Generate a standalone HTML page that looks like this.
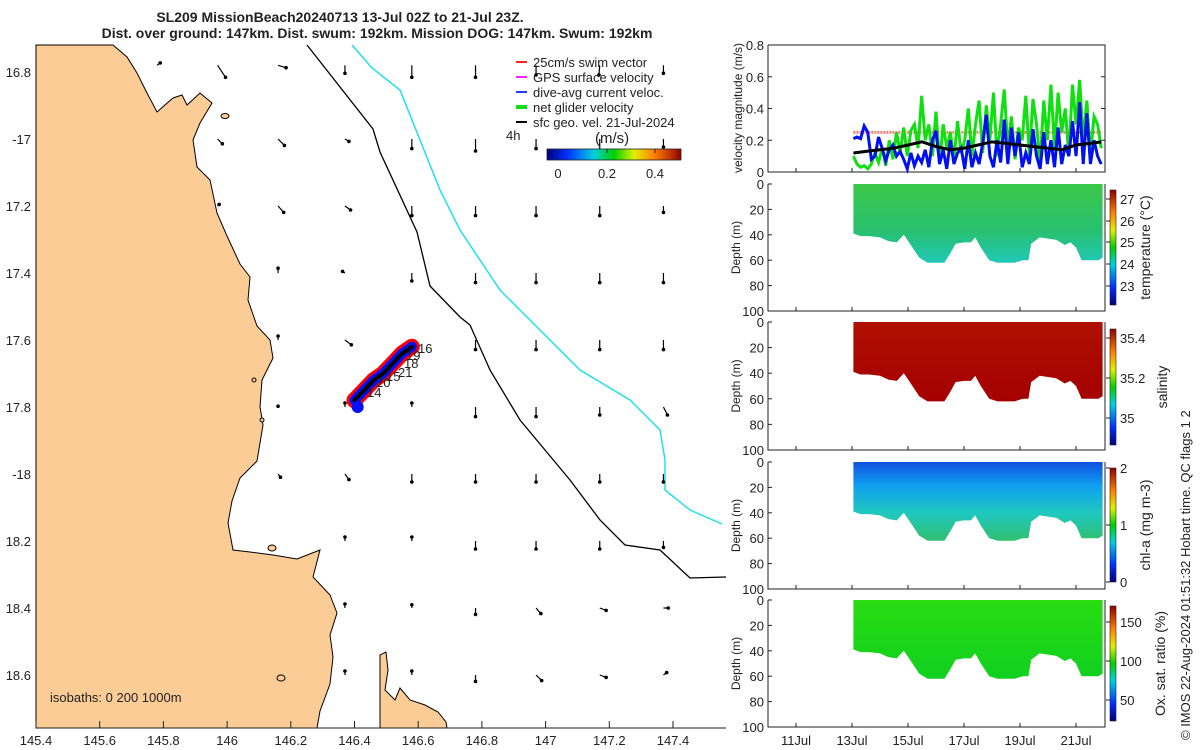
<!DOCTYPE html>
<html><head><meta charset="utf-8">
<style>
html,body{margin:0;padding:0;background:#fff;}
svg{display:block;font-family:"Liberation Sans","DejaVu Sans",sans-serif;}
text{fill:#222;}
</style></head>
<body>
<svg id="fig" width="1200" height="750" viewBox="0 0 1200 750" xmlns="http://www.w3.org/2000/svg">
<defs>
<linearGradient id="jet" x1="0" y1="1" x2="0" y2="0">
<stop offset="0" stop-color="#000080"/><stop offset="0.15" stop-color="#0030ff"/><stop offset="0.35" stop-color="#00d0e0"/><stop offset="0.5" stop-color="#00d000"/><stop offset="0.65" stop-color="#e0f000"/><stop offset="0.8" stop-color="#ff8000"/><stop offset="1" stop-color="#900000"/>
</linearGradient>
<linearGradient id="jeth" x1="0" y1="0" x2="1" y2="0">
<stop offset="0" stop-color="#000080"/><stop offset="0.15" stop-color="#0030ff"/><stop offset="0.35" stop-color="#00d0e0"/><stop offset="0.5" stop-color="#00d000"/><stop offset="0.65" stop-color="#e0f000"/><stop offset="0.8" stop-color="#ff8000"/><stop offset="1" stop-color="#900000"/>
</linearGradient>
<linearGradient id="gTemp" x1="0" y1="0" x2="0" y2="1"><stop offset="0" stop-color="#3cc848"/><stop offset="0.6" stop-color="#28c070"/><stop offset="1" stop-color="#20c8b8"/></linearGradient>
<linearGradient id="gSal" x1="0" y1="0" x2="0" y2="1"><stop offset="0" stop-color="#b01000"/><stop offset="1" stop-color="#a40000"/></linearGradient>
<linearGradient id="gChl" x1="0" y1="0" x2="0" y2="1"><stop offset="0" stop-color="#1050e0"/><stop offset="0.3" stop-color="#10a0f0"/><stop offset="0.65" stop-color="#20c8c0"/><stop offset="1" stop-color="#30c070"/></linearGradient>
<linearGradient id="gOx" x1="0" y1="0" x2="0" y2="1"><stop offset="0" stop-color="#28dc10"/><stop offset="1" stop-color="#10d020"/></linearGradient>
</defs>

<text x="340" y="22" font-size="14" font-weight="bold" text-anchor="middle">SL209 MissionBeach20240713 13-Jul 02Z to 21-Jul 23Z.</text>
<text x="377" y="38" font-size="14" font-weight="bold" text-anchor="middle">Dist. over ground: 147km. Dist. swum: 192km. Mission DOG: 147km. Swum: 192km</text>

<g id="map"></g>
<g id="panels"></g>

<text transform="translate(1190,740) rotate(-90)" font-size="13">© IMOS 22-Aug-2024 01:51:32 Hobart time. QC flags 1  2</text>
</svg>
<script>
// ---------- data ----------
const mapLonTicks=[145.4,145.6,145.8,146,146.2,146.4,146.6,146.8,147,147.2,147.4];
const mapLatTicks=[-16.8,-17,-17.2,-17.4,-17.6,-17.8,-18,-18.2,-18.4,-18.6];
const mapLatLabels=["16.8","-17","17.2","17.4","17.6","17.8","-18","18.2","18.4","18.6"];
const arrowLons=[145.78,145.97,146.16,146.37,146.58,146.78,146.97,147.17,147.37];
const arrowLats=[-16.78,-17.0,-17.2,-17.4,-17.6,-17.8,-18.0,-18.2,-18.4,-18.6];
const arrowU=[
[0.04,0.1,0.1,0,0,0,0,-0.01,0],
[null,0.06,0.08,0.05,0,0,0,0,0],
[null,0.02,0.07,0.07,0,0,0,0,0],
[null,null,0,-0.03,0,0,0,0,0],
[null,null,0,0.08,0.01,0,0,0,0],
[null,null,0,0,0,0,0,0,0.05],
[null,null,0.03,0.05,0,0,0,0,0],
[null,null,null,0,0,0,0,0,0],
[null,null,null,0,0,0,0.06,0.08,0.06],
[null,null,null,0,0,0,0.07,0.08,0.04]];
const arrowV=[
[0.03,-0.15,-0.03,-0.1,-0.15,-0.15,-0.12,-0.12,-0.1],
[null,-0.06,-0.08,-0.03,-0.12,-0.15,-0.12,-0.15,-0.1],
[null,0.02,-0.08,-0.05,-0.12,-0.12,-0.12,-0.12,-0.08],
[null,null,0.06,0.02,-0.1,-0.12,-0.12,-0.12,-0.12],
[null,null,0.05,-0.06,-0.02,-0.12,-0.12,-0.12,-0.12],
[null,null,0.01,0.05,0.05,-0.12,-0.12,-0.1,-0.1],
[null,null,-0.04,-0.07,-0.1,-0.1,-0.1,-0.1,-0.1],
[null,null,null,0.05,0.05,-0.1,-0.1,-0.1,-0.08],
[null,null,null,0.05,0.04,-0.08,-0.07,-0.03,0],
[null,null,null,0.05,0.05,-0.08,-0.07,-0.03,0.03]];
const trackLon=[146.40,146.43,146.46,146.49,146.52,146.55,146.58];
const trackLat=[-17.78,-17.75,-17.72,-17.70,-17.67,-17.64,-17.62];
const dayTicks=[11,13,15,17,19,21];
const velTicks=[0,0.2,0.4,0.6,0.8];
const depthTicks=[0,20,40,60,80,100];
const profDays=[13.05,13.3,13.6,14.0,14.3,14.6,14.85,15.1,15.4,15.7,16.0,16.3,16.5,16.7,17.0,17.25,17.4,17.6,17.9,18.2,18.5,18.8,19.1,19.3,19.4,19.7,20.0,20.3,20.6,20.8,21.0,21.2,21.5,21.8,21.95];
const profDepth=[39,41,41,42,45,46,40,48,58,62,62,62,55,47,46,46,42,50,60,62,62,62,60,60,47,42,43,44,48,46,50,60,60,60,58];
const greenVel=[0.1,0.05,0.03,0.04,0.02,0.05,0.12,0.06,0.15,0.04,0.2,0.08,0.25,0.12,0.28,0.1,0.26,0.3,0.15,0.48,0.2,0.3,0.1,0.38,0.05,0.3,0.15,0.25,0.08,0.32,0.12,0.2,0.4,0.1,0.3,0.45,0.12,0.42,0.2,0.5,0.1,0.3,0.52,0.15,0.35,0.08,0.28,0.2,0.48,0.1,0.46,0.3,0.05,0.45,0.2,0.55,0.15,0.5,0.25,0.4,0.1,0.55,0.3,0.58,0.2,0.45,0.1,0.35,0.3,0.15];
const blueVel=[0.21,0.22,0.21,0.29,0.25,0.08,0.1,0.22,0.15,0.07,0.14,0.17,0.1,0.13,0.08,0.02,0.12,0.04,0.1,0.06,0.14,0.03,0.2,0.26,0.05,0.14,0.02,0.2,0.05,0.12,0.15,0.02,0.2,0.03,0.12,0.05,0.18,0.36,0.1,0.03,0.2,0.06,0.33,0.05,0.28,0.1,0.25,0.03,0.12,0.05,0.27,0.1,0.02,0.25,0.05,0.2,0.03,0.28,0.05,0.17,0.1,0.32,0.1,0.44,0.05,0.37,0.05,0.2,0.1,0.05];
const blackDays=[13.05,13.5,14,14.5,15,15.5,16,16.5,17,17.5,18,18.5,19,19.5,20,20.5,21,21.5,21.9];
const blackVel=[0.12,0.13,0.14,0.15,0.17,0.19,0.16,0.14,0.15,0.17,0.19,0.18,0.17,0.16,0.15,0.14,0.17,0.18,0.19];
const swimVel=[0.25,0.25];

// ---------- helpers ----------
const NS="http://www.w3.org/2000/svg";
function mk(tag,attrs,parent){const e=document.createElementNS(NS,tag);for(const k in attrs)e.setAttribute(k,attrs[k]);parent.appendChild(e);return e;}
const map=document.getElementById('map');
const panels=document.getElementById('panels');
const MX0=36,MX1=726,MY0=45,MY1=728;
const lonX=l=>MX0+(l-145.4)*318.5;
const latY=l=>72+(-16.8-l)/0.2*67;

// ---------- map ----------
let r=mk('rect',{x:MX0,y:MY0,width:MX1-MX0,height:MY1-MY0,fill:'#fff'},map);

const coast="36,45 113,45 127,57 137,73 147,93 157,112 173,98 182,95 187,105 200,93 212,103 200,123 193,140 197,167 210,180 217,213 227,236 240,264 250,277 248,300 257,326 270,340 273,358 262,380 260,407 263,425 257,461 240,478 232,501 228,523 233,550 250,552 273,555 297,559 320,550 313,577 330,595 337,613 330,635 333,657 330,684 320,711 317,728 36,728";
let land=mk('polygon',{points:coast,fill:'#fccc97',stroke:'#000','stroke-width':1},map);

let isl=mk('polygon',{points:"380,655 386,652 388,670 385,690 395,700 400,688 410,700 425,705 438,712 446,722 447,728 380,728",fill:'#fccc97',stroke:'#000','stroke-width':1},map);

[[225,116,4,2.5],[272,548,4,3],[281,678,4,3],[254,380,2,2],[262,420,2,2]].forEach(p=>{let e=mk('ellipse',{cx:p[0],cy:p[1],rx:p[2],ry:p[3],fill:'#fccc97',stroke:'#000','stroke-width':1},map);});
let iso200=mk('polyline',{points:"307,45 373,129 380,152 417,232 430,286 460,317 470,325 490,370 520,420 570,480 600,520 625,545 660,550 690,578 726,577",fill:'none',stroke:'#000','stroke-width':1.3},map);

let iso1000=mk('polyline',{points:"352,45 372,68 400,90 420,140 440,190 460,230 480,260 500,290 540,330 580,370 630,400 660,430 665,460 665,490 690,510 722,524",fill:'none',stroke:'#20e0e8','stroke-width':1.5},map);


// arrows
for(let i=0;i<arrowLats.length;i++)for(let j=0;j<arrowLons.length;j++){
  const u=arrowU[i][j],v=arrowV[i][j];if(u===null||v===null)continue;
  const x=lonX(arrowLons[j]),y=latY(arrowLats[i]);const x2=x+u*80,y2=y-v*80;
  const g=mk('g',{},map);
  
  
  mk('line',{x1:x,y1:y,x2:x2,y2:y2,stroke:'#000','stroke-width':1.2},g);
  mk('circle',{cx:x2,cy:y2,r:1.8,fill:'#000'},g);
}
// glider track
const tp=trackLon.map((l,k)=>lonX(l)+','+latY(trackLat[k])).join(' ');
let t1=mk('polyline',{points:tp,fill:'none',stroke:'#ff0000','stroke-width':16,'stroke-linecap':'round'},map);

let t2=mk('polyline',{points:tp,fill:'none',stroke:'#0010ff','stroke-width':10,'stroke-linecap':'round'},map);

let t3=mk('polyline',{points:tp,fill:'none',stroke:'#000','stroke-width':4,'stroke-linecap':'round'},map);

let sd=mk('circle',{cx:lonX(146.41),cy:latY(-17.8),r:6,fill:'#0010ff'},map);

[["16",418,353],["19",406,360],["18",404,368],["21",398,377],["15",386,381],["20",376,387],["14",367,397]].forEach(d=>{let t=mk('text',{x:d[1],y:d[2],'font-size':13},map);t.textContent=d[0];});

// map frame and ticks
let fr=mk('polyline',{points:`${MX0},${MY1} ${MX1},${MY1}`,stroke:'#222',fill:'none','stroke-width':1},map);

mapLonTicks.forEach(l=>{const x=lonX(l);mk('line',{x1:x,y1:MY1,x2:x,y2:MY1-7,stroke:'#222'},map);let t=mk('text',{x:x,y:745,'font-size':13,'text-anchor':'middle'},map);t.textContent=String(l);});
mapLatTicks.forEach((l,k)=>{const y=latY(l);let t=mk('text',{x:31,y:y+5,'font-size':13,'text-anchor':'end'},map);t.textContent=mapLatLabels[k];});
let iso=mk('text',{x:50,y:702,'font-size':13},map);iso.textContent="isobaths: 0   200  1000m";


// legend
const leg=mk('g',{},map);

[["#ff2020","25cm/s swim vector"],["#ff20ff","GPS surface velocity"],["#2040ff","dive-avg current veloc."],["#10e010","net glider velocity"],["#000","sfc geo. vel. 21-Jul-2024"]].forEach((e,k)=>{
  const y=62+k*15;
  const g=mk('g',{},leg);
  
  
  mk('line',{x1:516,y1:y,x2:527,y2:y,stroke:e[0],'stroke-width':k==3?4:2},g);
  let t=mk('text',{x:533,y:y+5,'font-size':13},g);t.textContent=e[1];
});
let h4=mk('text',{x:506,y:140,'font-size':13},map);h4.textContent="4h";
let ms=mk('text',{x:595,y:143,'font-size':15},map);ms.textContent="(m/s)";
let cb=mk('rect',{x:547,y:149,width:134,height:11,fill:'url(#jeth)',stroke:'#222','stroke-width':0.8},map);

[["0",558],["0.2",607],["0.4",655]].forEach(d=>{mk('line',{x1:d[1],y1:149,x2:d[1],y2:153,stroke:'#222'},map);let t=mk('text',{x:d[1],y:178,'font-size':13,'text-anchor':'middle'},map);t.textContent=d[0];});

// ---------- right panels ----------
const PX0=768,PX1=1105;
const dayX=d=>PX0+(d-10)*28;
const panelY=[[45,172],[184,311],[322,450],[462,589],[600,727]];
function axisFrame(i,name){
  const [y0,y1]=panelY[i];
  let f=mk('polyline',{points:`${PX0},${y0} ${PX0},${y1} ${PX1},${y1} ${PX1},${y0}`+(i==0?` ${PX0},${y0}`:''),fill:'none',stroke:'#222','stroke-width':1},panels);
  
  dayTicks.forEach(d=>{mk('line',{x1:dayX(d),y1:y1,x2:dayX(d),y2:y1-4,stroke:'#222'},panels);});
}
// velocity panel
axisFrame(0,'velocity-axes');
const vy=v=>172-v/0.8*127;
velTicks.forEach(v=>{mk('line',{x1:PX0,y1:vy(v),x2:PX0+4,y2:vy(v),stroke:'#222'},panels);mk('line',{x1:PX1,y1:vy(v),x2:PX1-4,y2:vy(v),stroke:'#222'},panels);let t=mk('text',{x:764,y:vy(v)+5,'font-size':13,'text-anchor':'end'},panels);t.textContent=String(v);});
let vl=mk('text',{transform:'translate(742,108) rotate(-90)','font-size':12,'text-anchor':'middle'},panels);vl.textContent="velocity magnitude (m/s)";

const t0=13.05,t1e=21.9;
const seriesX=(k,n)=>dayX(t0+(t1e-t0)*k/(n-1));
let sw=mk('line',{x1:dayX(t0),y1:vy(swimVel[0]),x2:dayX(t1e),y2:vy(swimVel[1]),stroke:'#f08080','stroke-width':3,'stroke-dasharray':'2,1'},panels);

let gl=mk('polyline',{points:greenVel.map((v,k)=>seriesX(k,greenVel.length)+','+vy(v)).join(' '),fill:'none',stroke:'#10e010','stroke-width':3},panels);

let bl=mk('polyline',{points:blueVel.map((v,k)=>seriesX(k,blueVel.length)+','+vy(v)).join(' '),fill:'none',stroke:'#0010f0','stroke-width':3},panels);

let kl=mk('polyline',{points:blackVel.map((v,k)=>dayX(blackDays[k])+','+vy(v)).join(' '),fill:'none',stroke:'#000','stroke-width':3},panels);


// section panels
const sections=[
 {name:'temperature',fill:'url(#gTemp)',label:'temperature (°C)',ticks:[["27",199],["26",221],["25",242],["24",264],["23",286]],cb:[190,305],lx:1150},
 {name:'salinity',fill:'url(#gSal)',label:'salinity',ticks:[["35.4",338],["35.2",378],["35",418]],cb:[329,445],lx:1167},
 {name:'chl-a',fill:'url(#gChl)',label:'chl-a (mg m-3)',ticks:[["2",468],["1",525],["0",582]],cb:[468,582],lx:1150},
 {name:'oxygen',fill:'url(#gOx)',label:'Ox. sat. ratio (%)',ticks:[["150",622],["100",661],["50",700]],cb:[606,721],lx:1165}
];
sections.forEach((s,i)=>{
  const p=i+1,[y0,y1]=panelY[p];
  const dy=d=>y0+d/100*(y1-y0);
  axisFrame(p,s.name+'-axes');
  depthTicks.forEach(d=>{mk('line',{x1:PX0,y1:dy(d),x2:PX0+4,y2:dy(d),stroke:'#222'},panels);let t=mk('text',{x:764,y:dy(d)+5,'font-size':13,'text-anchor':'end'},panels);t.textContent=String(d);});
  let dl=mk('text',{transform:`translate(740,${(y0+y1)/2}) rotate(-90)`,'font-size':12,'text-anchor':'middle'},panels);dl.textContent="Depth (m)";
  
  let pts=`${dayX(profDays[0])},${dy(0)} `+profDays.map((d,k)=>dayX(d)+','+dy(profDepth[k])).join(' ')+` ${dayX(profDays[profDays.length-1])},${dy(0)}`;
  let sec=mk('polygon',{points:pts,fill:s.fill},panels);
  
  let c=mk('rect',{x:1110,y:s.cb[0],width:6,height:s.cb[1]-s.cb[0],fill:'url(#jet)',stroke:'#222','stroke-width':0.6},panels);
  
  s.ticks.forEach(tk=>{mk('line',{x1:1106,y1:tk[1],x2:1110,y2:tk[1],stroke:'#222'},panels);let t=mk('text',{x:1120,y:tk[1]+5,'font-size':13},panels);t.textContent=tk[0];});
  let lb=mk('text',{transform:`translate(${s.lx},${(s.cb[0]+s.cb[1])/2}) rotate(-90)`,'font-size':14,'text-anchor':'middle'},panels);lb.textContent=s.label;
  
});
// time tick labels
dayTicks.forEach(d=>{let t=mk('text',{x:dayX(d),y:745,'font-size':13,'text-anchor':'middle'},panels);t.textContent=d+"Jul";});
</script>
</body></html>
